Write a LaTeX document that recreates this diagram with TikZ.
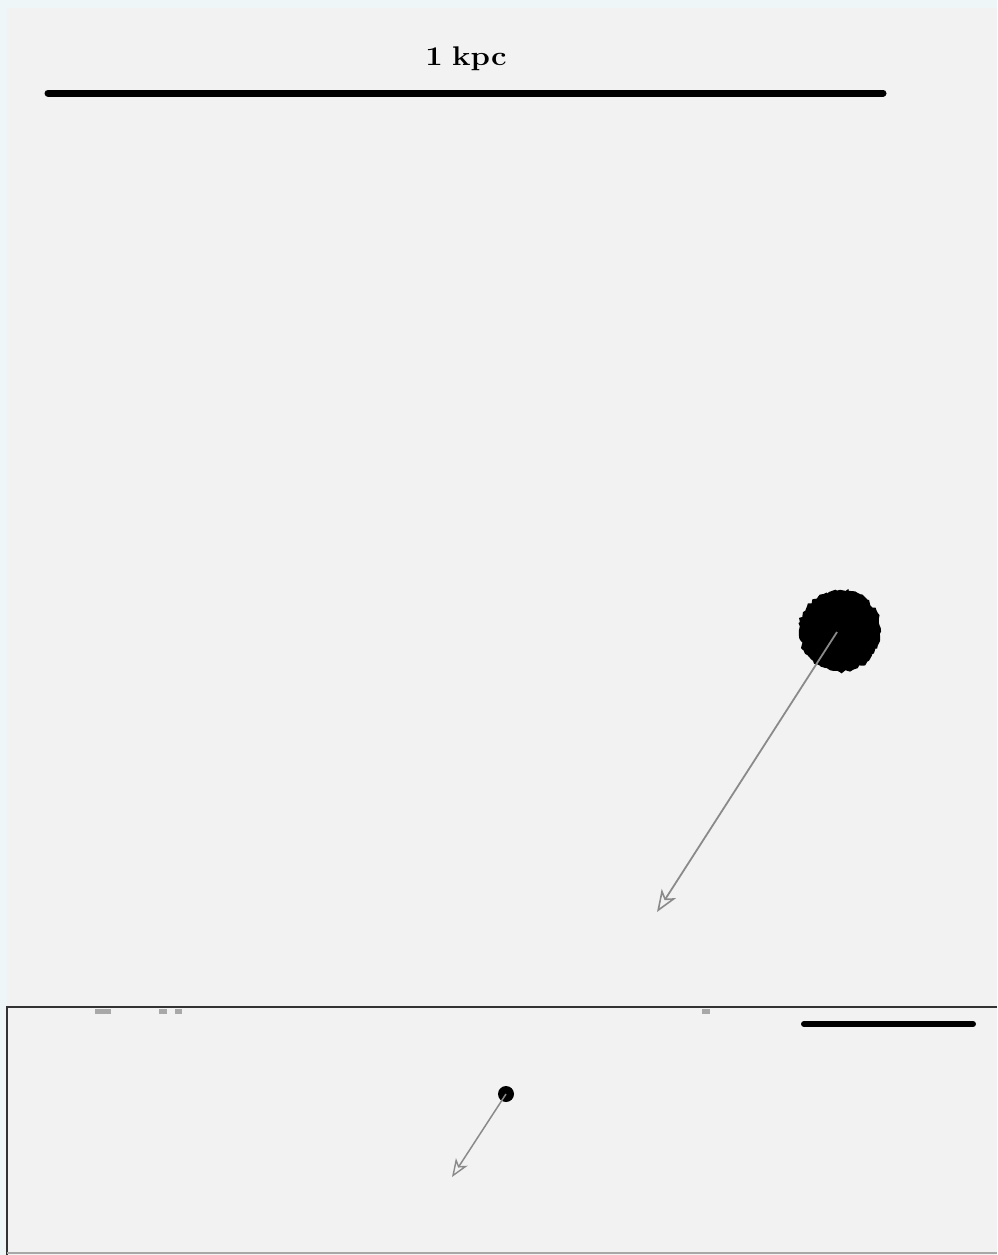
\documentclass[tikz,border=0pt]{standalone}
\usetikzlibrary{arrows.meta,decorations.pathmorphing}
\definecolor{edgebg}{HTML}{EEF6F8}
\definecolor{panelbg}{HTML}{F2F2F2}
\definecolor{arrowgray}{HTML}{8A8A8A}
\definecolor{framegray}{HTML}{333333}
\definecolor{tickgray}{HTML}{A8A8A8}
\tikzset{
  scalebar/.style={line width=7pt, line cap=round, black},
  velarrow/.style={draw=arrowgray, line width=1.8pt, -{Stealth[open, length=22pt, width=17pt, inset=6pt, line width=1.6pt]}},
  source/.style={circle, fill=black, inner sep=0pt},
  frameline/.style={draw=framegray, line width=1.6pt},
  tick/.style={draw=tickgray, line width=5pt},
}
\begin{document}
\begin{tikzpicture}[x=1pt,y=-1pt]
\useasboundingbox (0,0) rectangle (997,1255);
\fill[edgebg] (0,0) rectangle (997,1255);
\fill[panelbg] (7,8) rectangle (997,1255);
% top scale bar
\coordinate (sb1) at (48,93);
\coordinate (sb2) at (883,93);
\draw[scalebar] (sb1) -- (sb2);
\node (lbl) at (466,59) {\fontsize{27}{32}\selectfont\bfseries\scalebox{1.15}[1]{1\hspace{0.3em}kpc}};
% big source and arrow
\node[source, minimum size=82pt, decorate, decoration={random steps, segment length=3pt, amplitude=1.8pt}] (blob) at (840,631) {};
\coordinate (tip1) at (657,912);
\draw[velarrow] (837,632) -- (tip1);
% lower panel frame
\coordinate (f1) at (7,1007);
\coordinate (f2) at (997,1007);
\coordinate (f3) at (9,1255);
\draw[frameline] (f2) -- (f1) -- (f1 |- f3);
\draw[draw=tickgray, line width=2pt] (7,1253) -- (997,1253);
% small ticks below line
\draw[tick] (95,1011) -- (111,1011);
\draw[tick] (159,1011) -- (167,1011);
\draw[tick] (175,1011) -- (182,1011);
\draw[tick] (702,1011) -- (710,1011);
% small scale bar
\coordinate (sb3) at (804,1024);
\coordinate (sb4) at (973,1024);
\draw[scalebar, line width=6pt] (sb3) -- (sb4);
% small source and arrow
\node[source, minimum size=16pt] (dot) at (506,1094) {};
\coordinate (tip2) at (452,1177);
\draw[velarrow, line width=1.5pt, -{Stealth[open, length=18pt, width=14pt, inset=5pt, line width=1.4pt]}] (dot.center) -- (tip2);
\end{tikzpicture}
\end{document}
